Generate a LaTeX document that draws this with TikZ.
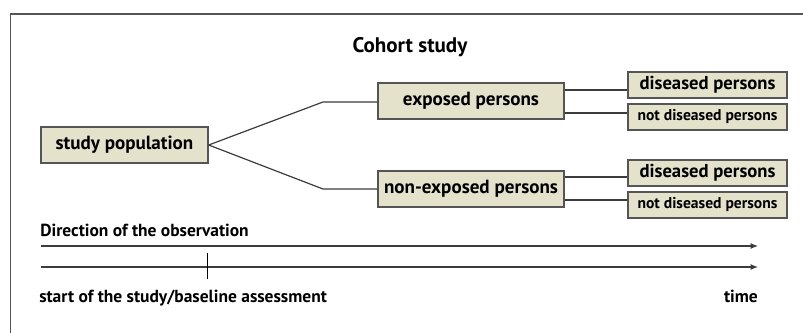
\documentclass[tikz,border=0pt]{standalone}
\usepackage{fontspec}
\setmainfont{PT Sans}
\usetikzlibrary{arrows.meta}
\definecolor{boxfill}{RGB}{228,226,202}
\definecolor{boxline}{RGB}{85,85,85}
\definecolor{linegray}{RGB}{60,60,60}
\tikzset{
  groupbox/.style={draw=boxline, line width=1pt, fill=boxfill, inner sep=0pt, font=\bfseries\fontsize{14.3}{16}\selectfont},
  outcomebox/.style={draw=boxline, line width=1pt, fill=boxfill, inner sep=0pt, minimum width=119.25pt, minimum height=19.5pt},
  link/.style={draw=linegray, line width=0.9pt},
  timeline/.style={draw=linegray, line width=0.9pt, -{Latex[length=5.5pt,width=4.5pt]}},
  label/.style={inner sep=0pt, font=\bfseries\fontsize{13.1}{15}\selectfont}
}
\begin{document}
\begin{tikzpicture}[x=0.75pt,y=0.75pt,yscale=-1,xscale=1]
\useasboundingbox (0,0) rectangle (803,332);
\clip (0,0) rectangle (803,332);

%frame
\draw [draw=boxline, line width=1.1pt] (10.5,340) -- (10.5,14) -- (810,14);

%title
\node [inner sep=0pt, font=\bfseries\fontsize{15.8}{18}\selectfont] (title) at (410,47) {Cohort study};

%groups
\node [groupbox, minimum width=125.25pt, minimum height=27pt] (pop) at (124.5,145) {study population};
\node [groupbox, minimum width=139.5pt, minimum height=27pt] (exp) at (471,101) {exposed persons};
\node [groupbox, minimum width=139.5pt, minimum height=27pt] (nonexp) at (471,189) {non-exposed persons};

%outcomes
\node [outcomebox, font=\bfseries\fontsize{14}{16}\selectfont] (dis1) at (707.5,85) {diseased persons};
\node [outcomebox, font=\bfseries\fontsize{11.7}{13}\selectfont] (ndis1) at (707.5,117) {not diseased persons};
\node [outcomebox, font=\bfseries\fontsize{14}{16}\selectfont] (dis2) at (707.5,173) {diseased persons};
\node [outcomebox, font=\bfseries\fontsize{11.7}{13}\selectfont] (ndis2) at (707.5,205) {not diseased persons};

%branches
\coordinate (upbend) at (323,102);
\coordinate (lowbend) at (323,189);
\draw [link] (pop.east) -- (upbend) -- (exp.west |- upbend);
\draw [link] (pop.east) -- (lowbend) -- (nonexp.west |- lowbend);
\draw [link] (exp.east |- 0,90) -- (dis1.west |- 0,90);
\draw [link] (exp.east |- 0,113) -- (ndis1.west |- 0,113);
\draw [link] (nonexp.east |- 0,177) -- (dis2.west |- 0,177);
\draw [link] (nonexp.east |- 0,200) -- (ndis2.west |- 0,200);

%observation
\node [label, anchor=base west] (direction) at (40,236) {Direction of the observation};
\coordinate (obsstart) at (41,246);
\coordinate (obsend) at (758,246);
\coordinate (timestart) at (41,267);
\coordinate (timeend) at (758,267);
\draw [timeline] (obsstart) -- (obsend);
\draw [timeline] (timestart) -- (timeend);
\draw [draw=black, line width=0.8pt] (207.5,253) -- (207.5,279);
\node [label, anchor=base west] (baseline) at (39,302) {start of the study/baseline assessment};
\node [label, anchor=base east] (time) at (758,302) {time};

\end{tikzpicture}
\end{document}
